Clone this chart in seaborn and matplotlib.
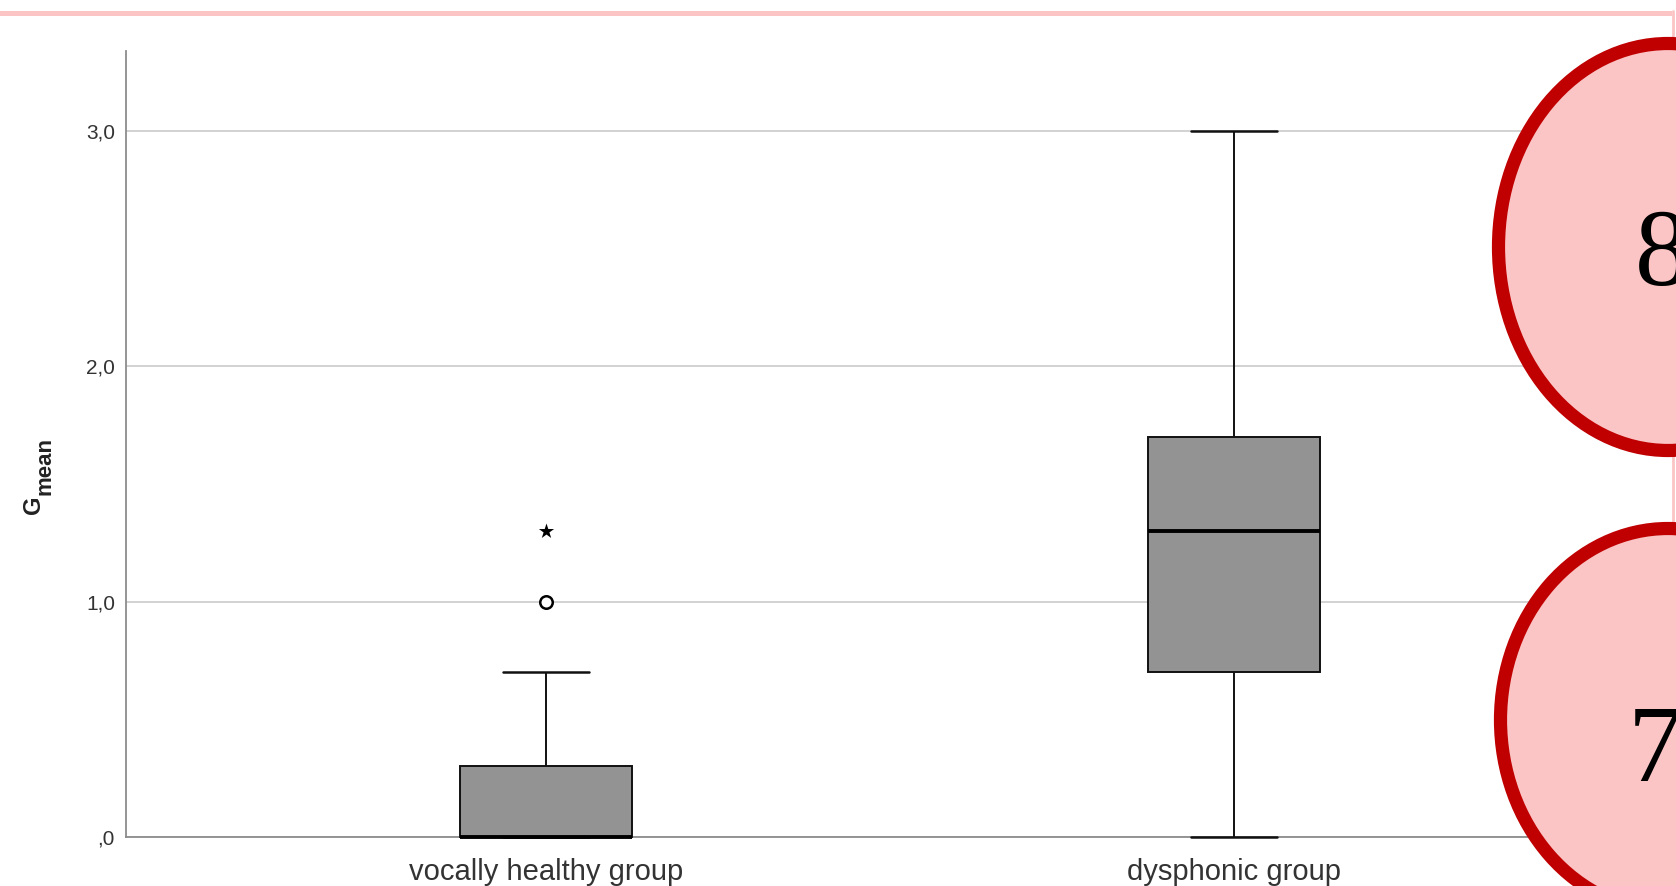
import matplotlib
matplotlib.use("Agg")
import matplotlib.pyplot as plt
from matplotlib.patches import Ellipse, Rectangle
from matplotlib.lines import Line2D
import pandas as pd
import seaborn as sns

groups = ["vocally healthy group", "dysphonic group"]

# five-number summary of each group
whisker_low = [0.0, 0.0]
q1 = [0.0, 0.7]
median = [0.0, 1.3]
q3 = [0.3, 1.7]
whisker_high = [0.7, 3.0]

# SPSS outliers: circle = outside 1.5 IQR, star = outside 3 IQR
mild_groups = ["vocally healthy group"]
mild_values = [1.0]
extreme_groups = ["vocally healthy group"]
extreme_values = [1.3]

yticks = [0, 1, 2, 3]
ytick_labels = [",0", "1,0", "2,0", "3,0"]
badges = ["8", "7"]

sns.set_style("white")
plt.rcParams["font.family"] = ["Liberation Sans", "DejaVu Sans"]

rows = []
for i, g in enumerate(groups):
    for v in (whisker_low[i], q1[i], median[i], q3[i], whisker_high[i]):
        rows.append({"group": g, "G": v})
df = pd.DataFrame(rows)

W, H = 1676, 886
fig = plt.figure(figsize=(W / 100, H / 100), dpi=100)
ax = fig.add_axes([126 / W, 49 / H, 1528 / W, 786 / H])

sns.boxplot(
    data=df, x="group", y="G", order=groups,
    width=0.25, whis=(0, 100), showfliers=False,
    color="#939393", saturation=1, linecolor="#111111", linewidth=1.4,
    medianprops={"linewidth": 2.8, "color": "black"},
    capprops={"linewidth": 1.8},
    ax=ax,
)
# keep the boxes above the spines (the healthy-group median sits on 0)
for art in [*ax.lines, *ax.patches]:
    art.set_zorder(3)
    art.set_clip_on(False)

sns.stripplot(
    x=mild_groups, y=mild_values, order=groups, jitter=False,
    marker="o", size=9, color="white", edgecolor="black", linewidth=1.8,
    zorder=4, ax=ax,
)
sns.stripplot(
    x=extreme_groups, y=extreme_values, order=groups, jitter=False,
    marker="*", size=11.5, color="black", linewidth=0,
    zorder=4, ax=ax,
)

ax.set_xlim(-0.611, 1.611)
ax.set_ylim(0, 3.338)
ax.set_yticks(yticks, ytick_labels)
ax.yaxis.grid(True, color="#c6c6c6", linewidth=1.1)
ax.xaxis.grid(False)
ax.set_axisbelow(True)
for side in ("top", "right"):
    ax.spines[side].set_visible(False)
for side in ("left", "bottom"):
    ax.spines[side].set_color("#8c8c8c")
    ax.spines[side].set_linewidth(1.3)
ax.tick_params(axis="both", length=0)
ax.tick_params(axis="y", labelsize=15, pad=8, labelcolor="#333333")
ax.tick_params(axis="x", labelsize=21, pad=15, labelcolor="#333333")
ax.set_xlabel("")
ax.set_ylabel("")

# y label G with subscript "mean", drawn as two rotated texts
fig.text(40 / W, 1 - 514 / H, "G", rotation=90, rotation_mode="anchor",
         ha="left", va="baseline", fontsize=17, fontweight="bold", color="#222222")
fig.text(50 / W, 1 - 495 / H, "mean", rotation=90, rotation_mode="anchor",
         ha="left", va="baseline", fontsize=16, fontweight="bold", color="#222222")

# slide decorations around the chart
pink = "#fbc5c5"
dark_red = "#c00000"
fig.add_artist(Rectangle((0, 1 - 16 / H), 1672 / W, 5 / H, transform=fig.transFigure,
                         color=pink, lw=0, zorder=3))
fig.add_artist(Line2D([1672.5 / W] * 2, [1 - 11 / H, 0], transform=fig.transFigure,
                      color=pink, lw=2, zorder=3))
shapes = [((1668, 247), 339, 407, (1662, 285)), ((1668, 720), 335, 383, (1655, 781))]
for label, (centre, w, h, (tx, ty)) in zip(badges, shapes):
    fig.add_artist(Ellipse((centre[0] / W, 1 - centre[1] / H), w / W, h / H,
                           transform=fig.transFigure, facecolor=pink,
                           edgecolor=dark_red, lw=9.5, zorder=5))
    fig.text(tx / W, 1 - ty / H, label, ha="center", va="baseline",
             family="Liberation Serif", fontsize=79, color="black", zorder=6)

fig.savefig("out.png", dpi=100)
